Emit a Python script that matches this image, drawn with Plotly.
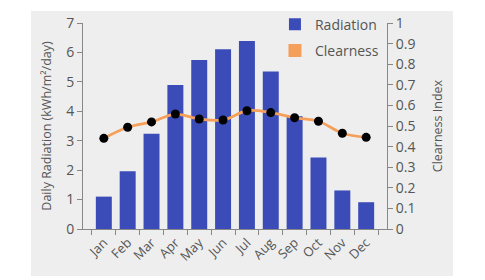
import plotly.graph_objects as go

months = ["Jan", "Feb", "Mar", "Apr", "May", "Jun", "Jul", "Aug", "Sep", "Oct", "Nov", "Dec"]
radiation = [1.10, 1.96, 3.24, 4.89, 5.74, 6.11, 6.39, 5.35, 3.83, 2.43, 1.31, 0.91]
clearness = [0.44, 0.494, 0.52, 0.558, 0.534, 0.529, 0.574, 0.565, 0.54, 0.523, 0.465, 0.445]

BLUE = "#3b4cb8"
ORANGE = "#f5a05a"
GRAY_TXT = "#555555"
AXIS = "#888888"
FONT = "Open Sans"

fig = go.Figure()
fig.add_trace(go.Bar(x=months, y=radiation, name="Radiation", marker_color=BLUE,
                     marker_line_width=0, legendgroup="a"))
fig.add_trace(go.Scatter(x=months, y=clearness, yaxis="y2", mode="lines+markers",
                         line=dict(color=ORANGE, width=2.8, shape="spline"),
                         marker=dict(color="black", size=9), showlegend=False))
fig.add_trace(go.Scatter(x=[None], y=[None], yaxis="y2", mode="markers", name="Clearness",
                         legendgroup="b",
                         marker=dict(symbol="square", color=ORANGE, size=13)))

fig.update_layout(
    width=485, height=280,
    margin=dict(l=75, r=106, t=15, b=59, autoexpand=False),
    paper_bgcolor="white",
    plot_bgcolor="rgba(0,0,0,0)",
    font=dict(family=FONT, size=13, color=GRAY_TXT),
    bargap=0.33,
    showlegend=True,
    legend=dict(x=0.99, y=1.07, xanchor="right", yanchor="top", bgcolor="rgba(0,0,0,0)",
                font=dict(size=14, color=GRAY_TXT), itemwidth=30, tracegroupgap=5),
    xaxis=dict(showline=True, linecolor=AXIS, ticks="outside", ticklen=5, tickcolor=AXIS,
               tickson="boundaries", tickangle=-45, showgrid=False, automargin=False,
               tickfont=dict(size=13)),
    yaxis=dict(range=[0, 7], dtick=1, showline=True, linecolor=AXIS, ticks="outside",
               ticklen=5, tickcolor=AXIS, showgrid=False, zeroline=False, automargin=False,
               tickfont=dict(size=14),
               title=dict(text="Daily Radiation (kWh/m²/day)", font=dict(size=12.5), standoff=11)),
    yaxis2=dict(range=[0, 1], dtick=0.1, overlaying="y", side="right", showline=True,
                linecolor=AXIS, ticks="outside", ticklen=5, tickcolor=AXIS, showgrid=False,
                zeroline=False, automargin=False, tickfont=dict(size=14),
                title=dict(text="Clearness Index", font=dict(size=12.5), standoff=18)),
    shapes=[dict(type="rect", xref="paper", yref="paper", x0=-0.171, x1=1.217,
                 y0=-0.228, y1=1.058, fillcolor="#eeeeee", line_width=0, layer="below")],
)

fig.write_html("out.html")
